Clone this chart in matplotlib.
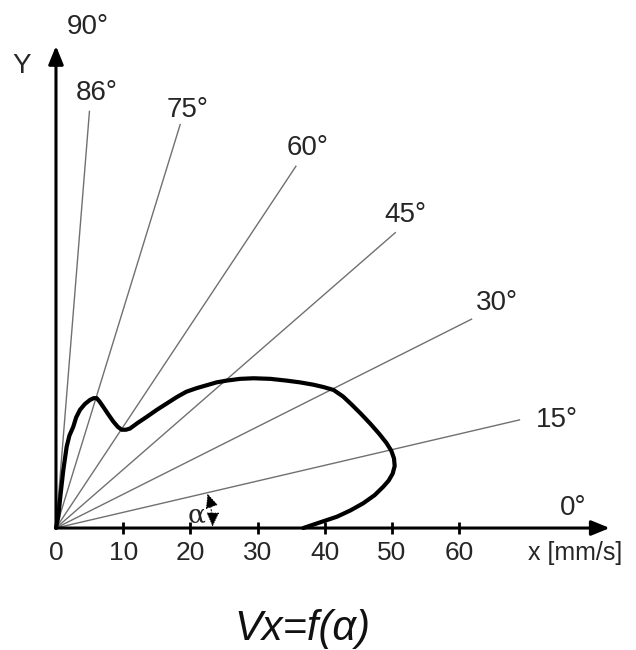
import numpy as np
import matplotlib
matplotlib.use("Agg")
import matplotlib.pyplot as plt

plt.rcParams['font.family'] = ['Liberation Sans', 'DejaVu Sans']

# Curve Vx = f(alpha) (mm/s)
curve_x = [0, 0.34, 0.70, 1.09, 1.59, 2.0, 2.57, 3.0, 3.57, 4.3, 5.06, 5.6, 6.06,
           6.5, 7.04, 7.8, 8.53, 9.2, 9.78, 10.4, 11.0, 12.2, 13.5, 15.0, 16.5,
           18.0, 19.4, 20.9, 22.4, 23.9, 25.4, 27.4, 29.4, 31.9, 34.3, 36.3,
           38.3, 39.8, 41.3, 42.7, 44.0, 45.4, 46.8, 48.1, 49.2, 49.9, 50.3,
           50.4, 50.1, 49.5, 48.7, 47.4, 45.7, 43.8, 41.8, 39.3, 36.8]
curve_y = [0, 1.93, 5.93, 9.91, 13.9, 15.8, 17.3, 18.9, 20.2, 21.2, 21.9, 22.2,
           22.2, 21.6, 20.7, 19.4, 18.2, 17.3, 16.8, 16.8, 17.0, 18.0, 19.0,
           20.2, 21.3, 22.4, 23.3, 23.9, 24.4, 24.9, 25.2, 25.5, 25.6, 25.5,
           25.2, 24.9, 24.5, 24.1, 23.6, 22.5, 21.1, 19.5, 17.8, 16.1, 14.5,
           13.2, 11.9, 10.6, 9.3, 8.1, 7.06, 5.6, 4.22, 3.0, 1.93, 0.97, 0]

ray_angles = [15, 30, 45, 60, 75, 86]
ray_length = 71.4
ray_labels = ["15°", "30°", "45°", "60°", "75°", "86°"]
ray_label_pos = [(74.6, 18.5), (65.6, 38.5), (52.0, 53.5), (37.5, 65.0),
                 (19.6, 71.5), (6.0, 74.4)]

x_ticks = [0, 10, 20, 30, 40, 50, 60]
axis_end = 82.4

fig = plt.figure(figsize=(6.36, 6.5), dpi=100)
ax = fig.add_axes([0, 0, 1, 1])
ax.set_xlim(-8.33, 86.31)
ax.set_ylim(-20.85, 90.26)
ax.axis('off')

txt_color = '#262626'

# rays
for a in ray_angles:
    t = np.deg2rad(a)
    ax.plot([0, ray_length * np.cos(t)], [0, ray_length * np.sin(t)],
            color='#707070', lw=1.0, zorder=1)
for lab, (lx, ly) in zip(ray_labels, ray_label_pos):
    ax.text(lx, ly, lab, fontsize=20, ha='center', va='center', color=txt_color)

# axes arrows
ax.annotate('', xy=(axis_end, 0), xytext=(0, 0),
            arrowprops=dict(arrowstyle='-|>,head_length=1.1,head_width=0.45',
                            color='black', lw=2.2, shrinkA=0, shrinkB=0), zorder=3)
ax.annotate('', xy=(0, axis_end), xytext=(0, 0),
            arrowprops=dict(arrowstyle='-|>,head_length=1.1,head_width=0.45',
                            color='black', lw=2.2, shrinkA=0, shrinkB=0), zorder=3)

# tick marks and labels
ax.plot(x_ticks[1:], [0] * (len(x_ticks) - 1), ls='none', marker='|',
        markersize=9, mew=2, color='black', zorder=3)
for t in x_ticks:
    ax.text(t, -4.3, str(t), fontsize=19, ha='center', va='center', color=txt_color)
ax.text(77.3, -4.3, "x [mm/s]", fontsize=18, ha='center', va='center', color=txt_color)
ax.text(77.0, 3.4, "0°", fontsize=20, ha='center', va='center', color=txt_color)
ax.text(4.8, 85.6, "90°", fontsize=20, ha='center', va='center', color=txt_color)
ax.text(-5.1, 79.0, "Y", fontsize=20, ha='center', va='center', color=txt_color)

# curve
ax.plot(curve_x, curve_y, color='black', lw=3.0, solid_joinstyle='round',
        solid_capstyle='round', zorder=4)

# alpha indicator
r_a = 23.3
mid = (r_a * np.cos(np.deg2rad(7.5)), r_a * np.sin(np.deg2rad(7.5)))
ax.annotate('', xy=(r_a * np.cos(np.deg2rad(14.6)), r_a * np.sin(np.deg2rad(14.6))),
            xytext=mid,
            arrowprops=dict(arrowstyle='-|>,head_length=0.9,head_width=0.4',
                            color='black', lw=0.6, ls=(0, (1, 2)),
                            connectionstyle='arc3,rad=0.05', shrinkA=0, shrinkB=0))
ax.annotate('', xy=(r_a * np.cos(np.deg2rad(0.6)), r_a * np.sin(np.deg2rad(0.6))),
            xytext=mid,
            arrowprops=dict(arrowstyle='-|>,head_length=0.9,head_width=0.4',
                            color='black', lw=0.6, ls=(0, (1, 2)),
                            connectionstyle='arc3,rad=-0.05', shrinkA=0, shrinkB=0))
ax.text(20.9, 2.3, "α", fontsize=19, ha='center', va='center', color=txt_color,
        family='DejaVu Serif')

# title
ax.text(36.6, -17.2, "Vx=f(α)", fontsize=30, style='italic', ha='center',
        va='center', color='#111111')

fig.savefig("out.png", dpi=100)
